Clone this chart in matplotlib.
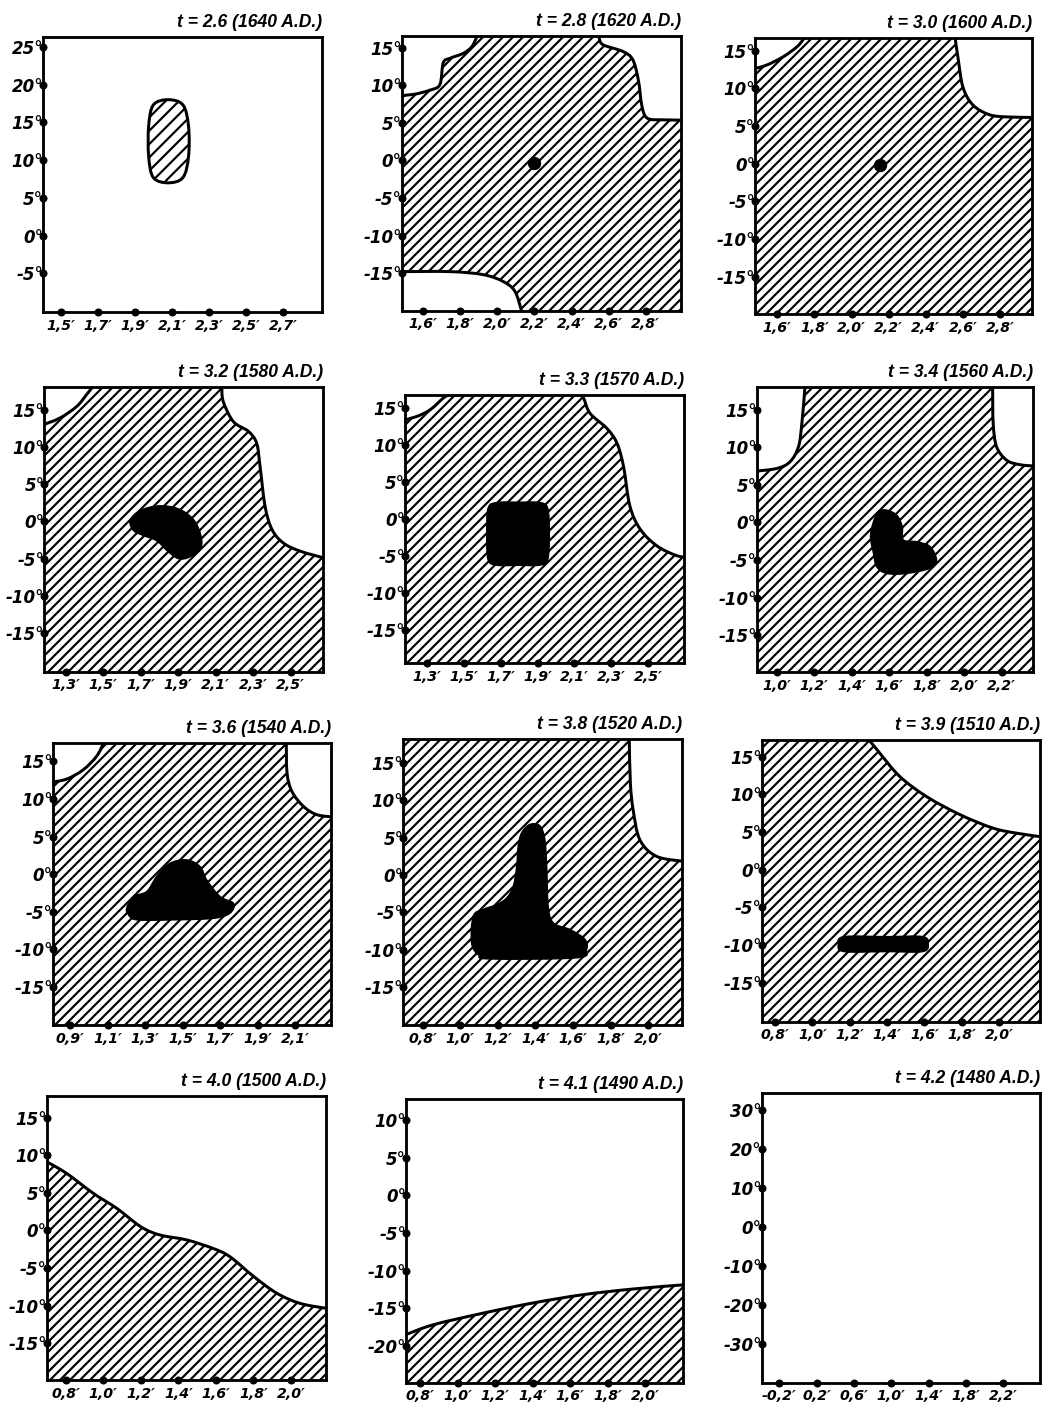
import numpy as np
import matplotlib.pyplot as plt
from matplotlib.path import Path
from matplotlib.patches import PathPatch, Rectangle

# === CONFIG ===
DPI = 120
W, H = 1051, 1411
OUT = "out.png"
HATCH = "////"
plt.rcParams["hatch.linewidth"] = 1.3
plt.rcParams["hatch.color"] = "black"

# === DATA: titles, limits, ticks ===
TITLES = ["t = 2.6 (1640 A.D.)", "t = 2.8 (1620 A.D.)", "t = 3.0 (1600 A.D.)",
          "t = 3.2 (1580 A.D.)", "t = 3.3 (1570 A.D.)", "t = 3.4 (1560 A.D.)",
          "t = 3.6 (1540 A.D.)", "t = 3.8 (1520 A.D.)", "t = 3.9 (1510 A.D.)",
          "t = 4.0 (1500 A.D.)", "t = 4.1 (1490 A.D.)", "t = 4.2 (1480 A.D.)"]

XLIMS = [(1.405, 2.91), (1.484, 2.99), (1.48, 2.974),
         (1.186, 2.67), (1.182, 2.695), (0.893, 2.369),
         (0.808, 2.29), (0.697, 2.178), (0.729, 2.218),
         (0.699, 2.186), (0.725, 2.204), (-0.389, 2.594)]
YLIMS = [(-10.1, 26.3), (-20.0, 16.6), (-19.95, 16.65),
         (-20.2, 18.1), (-19.5, 16.8), (-19.97, 18.1),
         (-20.1, 17.5), (-20.1, 18.2), (-20.2, 17.2),
         (-19.9, 17.9), (-24.9, 12.75), (-39.9, 34.3)]

XT_A = [1.5, 1.7, 1.9, 2.1, 2.3, 2.5, 2.7]
XT_B = [1.6, 1.8, 2.0, 2.2, 2.4, 2.6, 2.8]
XT_C = [1.3, 1.5, 1.7, 1.9, 2.1, 2.3, 2.5]
XT_D = [1.0, 1.2, 1.4, 1.6, 1.8, 2.0, 2.2]
XT_E = [0.9, 1.1, 1.3, 1.5, 1.7, 1.9, 2.1]
XT_F = [0.8, 1.0, 1.2, 1.4, 1.6, 1.8, 2.0]
XT_G = [-0.2, 0.2, 0.6, 1.0, 1.4, 1.8, 2.2]
XTICKS = [XT_A, XT_B, XT_B, XT_C, XT_C, XT_D, XT_E, XT_F, XT_F, XT_F, XT_F, XT_G]

YT_A = [25, 20, 15, 10, 5, 0, -5]
YT_B = [15, 10, 5, 0, -5, -10, -15]
YT_C = [10, 5, 0, -5, -10, -15, -20]
YT_D = [30, 20, 10, 0, -10, -20, -30]
YTICKS = [YT_A, YT_B, YT_B, YT_B, YT_B, YT_B, YT_B, YT_B, YT_B, YT_B, YT_C, YT_D]

# === DATA: outlines (arcmin, degrees) ===
P1_ISLAND = [(2.08, 18.0), (2.16, 17.3), (2.19, 14.5), (2.19, 10.5), (2.16, 7.7),
             (2.08, 7.0), (2.00, 7.7), (1.975, 10.5), (1.975, 14.5), (2.00, 17.3)]

P2_TL = [(1.46, 8.6), (1.55, 8.8), (1.636, 9.35), (1.69, 10.1), (1.708, 13.0), (1.745, 13.6),
         (1.816, 14.25), (1.861, 15.1), (1.888, 16.4), (1.895, 17.0)]
P2_TR = [(2.542, 17.0), (2.548, 16.4), (2.569, 15.4), (2.677, 14.5), (2.73, 13.4), (2.76, 10.7),
         (2.78, 7.15), (2.81, 5.6), (2.9, 5.4), (3.02, 5.37)]
P2_BL = [(1.46, -14.8), (1.745, -14.8), (1.923, -15.2), (2.03, -16.1), (2.094, -17.4),
         (2.13, -20.0), (2.135, -20.5)]
P2_DOT = (2.196, -0.36)

P3_TL = [(1.46, 12.5), (1.543, 13.1), (1.632, 14.2), (1.705, 15.5), (1.74, 16.5), (1.75, 17.0)]
P3_TR = [(2.558, 17.0), (2.56, 16.4), (2.573, 14.2), (2.6, 10.2), (2.654, 7.8), (2.744, 6.5),
         (2.85, 6.2), (3.0, 6.15)]
P3_DOT = (2.153, -0.13)

P4_TL = [(1.17, 12.9), (1.27, 13.9), (1.359, 15.45), (1.41, 17.0), (1.44, 18.0), (1.445, 18.5)]
P4_TR = [(2.13, 18.5), (2.132, 18.1), (2.14, 16.1), (2.194, 13.4), (2.274, 12.1), (2.318, 10.5),
         (2.336, 7.4), (2.363, 2.0), (2.4, -1.1), (2.46, -2.9), (2.55, -4.0), (2.69, -5.0)]
P4_BLOB = [(1.644, 0.2), (1.70, 1.5), (1.80, 2.1), (1.90, 1.7), (1.98, 0.3), (2.02, -1.8),
           (2.02, -3.6), (1.96, -4.8), (1.90, -5.0), (1.839, -3.9), (1.785, -2.6), (1.714, -1.9),
           (1.66, -1.2)]

P5_TL = [(1.16, 13.3), (1.246, 13.9), (1.318, 14.8), (1.39, 16.4), (1.417, 16.8), (1.43, 17.2)]
P5_TR = [(2.128, 17.2), (2.131, 16.8), (2.149, 16.4), (2.185, 14.3), (2.275, 12.3), (2.33, 10.3),
         (2.366, 7.1), (2.4, 1.8), (2.456, -1.35), (2.546, -3.6), (2.65, -4.9), (2.72, -5.2)]
P5_BLOB = [(1.68, 2.26), (1.80, 2.3), (1.91, 2.26), (1.955, 1.5), (1.964, -2.0), (1.955, -5.5),
           (1.91, -6.23), (1.80, -6.25), (1.68, -6.23), (1.632, -5.5), (1.625, -2.0), (1.632, 1.5)]

P6_TL = [(0.87, 6.8), (1.0, 7.2), (1.071, 8.1), (1.116, 10.1), (1.134, 13.2), (1.15, 17.9), (1.152, 18.5)]
P6_TR = [(2.151, 18.5), (2.152, 17.9), (2.155, 13.2), (2.173, 10.1), (2.227, 8.3), (2.298, 7.7), (2.39, 7.5)]
P6_BLOB = [(1.582, 1.67), (1.64, 1.0), (1.67, -0.56), (1.675, -2.3), (1.746, -2.56), (1.818, -3.2),
           (1.853, -5.0), (1.818, -6.1), (1.693, -6.8), (1.587, -6.8), (1.533, -5.9), (1.516, -4.1),
           (1.5, -1.9), (1.516, 0.1), (1.542, 1.4)]

P7_TL = [(0.79, 12.2), (0.882, 12.65), (0.971, 13.9), (1.042, 15.7), (1.078, 17.45), (1.08, 18.0)]
P7_TR = [(2.051, 18.0), (2.052, 17.5), (2.056, 13.45), (2.082, 11.0), (2.144, 9.0), (2.216, 7.9), (2.31, 7.6)]
P7_BLOB = [(1.202, -4.5), (1.238, -3.0), (1.309, -2.3), (1.362, -0.3), (1.433, 1.45), (1.522, 1.9),
           (1.593, 1.0), (1.629, -0.8), (1.7, -3.0), (1.771, -3.9), (1.753, -5.2), (1.664, -5.9),
           (1.45, -6.1), (1.256, -6.1), (1.211, -5.4)]

P8_TR = [(1.898, 18.6), (1.899, 18.2), (1.905, 12.3), (1.92, 8.7), (1.956, 4.7), (2.045, 2.5), (2.20, 1.8)]
P8_BLOB = [(1.327, 5.7), (1.371, 6.8), (1.424, 6.6), (1.45, 4.8), (1.46, 1.2), (1.468, -4.2),
           (1.495, -6.4), (1.584, -7.3), (1.663, -8.6), (1.672, -10.0), (1.62, -11.1), (1.158, -11.25),
           (1.096, -10.7), (1.06, -9.1), (1.069, -5.5), (1.122, -4.6), (1.194, -3.95), (1.247, -3.05),
           (1.282, -1.5), (1.3, 1.2), (1.308, 3.9)]

P9_TR = [(1.285, 17.8), (1.361, 15.45), (1.468, 12.35), (1.611, 9.69), (1.789, 7.3),
         (1.967, 5.5), (2.10, 4.8), (2.24, 4.3)]
P9_BAR = [(1.17, -8.9), (1.40, -8.9), (1.59, -8.9), (1.62, -9.9), (1.59, -10.9), (1.40, -10.9),
          (1.17, -10.9), (1.139, -9.9)]

P10_EDGE = [(0.68, 9.4), (0.699, 9.15), (0.805, 7.6), (0.947, 4.95), (1.072, 2.95), (1.2, 0.5),
            (1.302, -0.6), (1.445, -1.26), (1.586, -2.4), (1.675, -3.5), (1.8, -6.1), (1.924, -8.35),
            (2.048, -9.7), (2.186, -10.35), (2.21, -10.4)]
P11_EDGE = [(0.70, -18.7), (0.725, -18.5), (0.871, -17.2), (1.138, -15.65), (1.404, -14.3),
            (1.671, -13.2), (1.937, -12.45), (2.204, -11.9), (2.23, -11.85)]

# per panel: full hatch?, white corner regions, hatched regions, black blobs, dots
FULL_HATCH = [False, True, True, True, True, True, True, True, True, False, False, False]
WHITE = [[], [(P2_TL, "tl"), (P2_TR, "tr"), (P2_BL, "bl")], [(P3_TL, "tl"), (P3_TR, "tr")],
         [(P4_TL, "tl"), (P4_TR, "tr")], [(P5_TL, "tl"), (P5_TR, "tr")], [(P6_TL, "tl"), (P6_TR, "tr")],
         [(P7_TL, "tl"), (P7_TR, "tr")], [(P8_TR, "tr")], [(P9_TR, "tr")], [], [], []]
BELOW = [None] * 9 + [P10_EDGE, P11_EDGE, None]
BLOBS = [[], [], [], [P4_BLOB], [P5_BLOB], [P6_BLOB], [P7_BLOB], [P8_BLOB], [P9_BAR], [], [], []]
DOTS = [None, P2_DOT, P3_DOT] + [None] * 9

# axes frames in pixels: left, right, top, bottom
FRAMES = [(43, 322, 37, 312), (401.7, 681, 35.7, 310.7), (755, 1032.3, 38.3, 314),
          (44.3, 322.7, 386.7, 671.7), (405, 684.3, 395, 663.3), (756.7, 1033.3, 386.7, 672.3),
          (52.7, 331, 742.7, 1025), (403.3, 681.7, 739.3, 1025), (761.7, 1040, 740, 1021.7),
          (46.7, 326, 1096, 1380), (406, 683.3, 1099.3, 1382.7), (761.7, 1040, 1093.3, 1382.7)]


def spline_path(pts, closed=False, tail=()):
    # Catmull-Rom through the points, written as cubic Bezier segments
    P = np.asarray(pts, float)
    n = len(P)
    verts, codes = [P[0]], [Path.MOVETO]
    nseg = n if closed else n - 1
    for i in range(nseg):
        if closed:
            p0, p1, p2, p3 = P[(i - 1) % n], P[i % n], P[(i + 1) % n], P[(i + 2) % n]
        else:
            p0, p1, p2, p3 = P[max(i - 1, 0)], P[i], P[i + 1], P[min(i + 2, n - 1)]
        verts += [p1 + (p2 - p0) / 6, p2 - (p3 - p1) / 6, p2]
        codes += [Path.CURVE4] * 3
    for t in tail:
        verts.append(t)
        codes.append(Path.LINETO)
    if closed or len(tail):
        verts.append(P[0])
        codes.append(Path.CLOSEPOLY)
    return Path(np.array(verts), codes)


def corner(kind, xl, yl):
    mx = 0.1 * (xl[1] - xl[0])
    my = 0.1 * (yl[1] - yl[0])
    return {"tl": [(xl[0] - mx, yl[1] + my)],
            "tr": [(xl[1] + mx, yl[1] + my)],
            "bl": [(xl[0] - mx, yl[0] - my)],
            "below": [(xl[1] + mx, yl[0] - my), (xl[0] - mx, yl[0] - my)]}[kind]


fig = plt.figure(figsize=(W / DPI, H / DPI), dpi=DPI)
LINE_W = 1.8

for i in range(12):
    L, R, T, B = FRAMES[i]
    ax = fig.add_axes([L / W, 1 - B / H, (R - L) / W, (B - T) / H])
    xl, yl = XLIMS[i], YLIMS[i]
    ax.set_xlim(*xl)
    ax.set_ylim(*yl)

    if FULL_HATCH[i]:
        ax.add_patch(Rectangle((0, 0), 1, 1, transform=ax.transAxes, facecolor="white",
                               edgecolor="black", hatch=HATCH, lw=0, zorder=1))
    for pts, kind in WHITE[i]:
        ax.add_patch(PathPatch(spline_path(pts, tail=corner(kind, xl, yl)),
                               facecolor="white", edgecolor="none", zorder=2))
        ax.add_patch(PathPatch(spline_path(pts), fill=False, edgecolor="black",
                               lw=LINE_W, zorder=3))
    if BELOW[i] is not None:
        ax.add_patch(PathPatch(spline_path(BELOW[i], tail=corner("below", xl, yl)),
                               facecolor="white", edgecolor="black", hatch=HATCH, lw=0, zorder=1))
        ax.add_patch(PathPatch(spline_path(BELOW[i]), fill=False, edgecolor="black",
                               lw=LINE_W, zorder=3))
    if i == 0:
        ax.add_patch(PathPatch(spline_path(P1_ISLAND, closed=True), facecolor="white",
                               edgecolor="black", hatch="///", lw=LINE_W, zorder=3))
    for blob in BLOBS[i]:
        ax.add_patch(PathPatch(spline_path(blob, closed=True), facecolor="black",
                               edgecolor="black", lw=0.8, zorder=4))
    if DOTS[i] is not None:
        ax.plot([DOTS[i][0]], [DOTS[i][1]], "o", color="black", ms=7, zorder=4)

    # ticks drawn as dots on the frame
    xt, yt = XTICKS[i], YTICKS[i]
    ax.set_xticks(xt)
    ax.set_yticks(yt)
    ax.set_xticklabels([f"{v:.1f}".replace(".", ",") + "\u2032" for v in xt],
                       fontsize=8.5, fontweight="bold", fontstyle="italic")
    ax.set_yticklabels([f"{v}\u00b0" for v in yt],
                       fontsize=10, fontweight="bold", fontstyle="italic")
    ax.tick_params(length=0, pad=0)
    ax.tick_params(axis="x", pad=4)
    ax.plot(xt, [yl[0]] * len(xt), "o", color="black", ms=3.8, clip_on=False, zorder=6)
    ax.plot([xl[0]] * len(yt), yt, "o", color="black", ms=3.8, clip_on=False, zorder=6)

    for sp in ax.spines.values():
        sp.set_linewidth(1.7)
        sp.set_zorder(5)

    ax.set_title(TITLES[i], loc="right", pad=6, fontsize=10.5, fontweight="bold",
                 fontstyle="italic", family=["Liberation Sans", "DejaVu Sans"])

fig.savefig(OUT, dpi=DPI)
